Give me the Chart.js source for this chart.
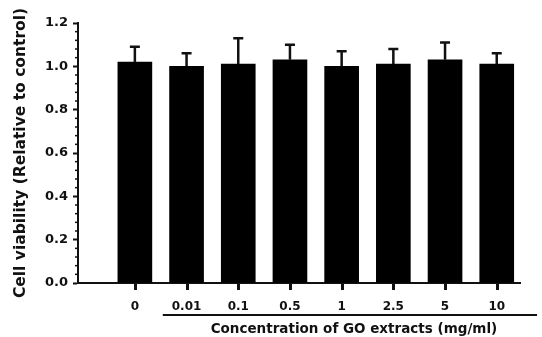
<!DOCTYPE html>
<html>
<head>
<meta charset="utf-8">
<script src="https://cdn.jsdelivr.net/npm/chart.js@4"></script>
<style>
  html, body { margin: 0; padding: 0; background: #fff; }
  #wrap { width: 542px; height: 337px; }
</style>
</head>
<body>
<div id="wrap"><canvas id="myChart"></canvas></div>
<script>
const concentrations = ["0", "0.01", "0.1", "0.5", "1", "2.5", "5", "10"];
const viability = [1.02, 1.00, 1.01, 1.03, 1.00, 1.01, 1.03, 1.01];
const errUp = [0.07, 0.06, 0.12, 0.07, 0.07, 0.07, 0.08, 0.05];
const yTicks = [0, 0.2, 0.4, 0.6, 0.8, 1.0, 1.2];
const xTitle = "Concentration of GO extracts (mg/ml)";

const ink = "#111";
const font = "'DejaVu Sans', sans-serif";

// error bars: upper whisker with a cap
const errorBars = {
  id: "errorBars",
  afterDatasetsDraw(chart) {
    const { ctx, scales: { x, y } } = chart;
    ctx.save();
    ctx.strokeStyle = ink;
    ctx.lineWidth = 2.5;
    viability.forEach((v, i) => {
      const px = x.getPixelForValue(i);
      const top = y.getPixelForValue(v + errUp[i]);
      ctx.beginPath();
      ctx.moveTo(px, y.getPixelForValue(v));
      ctx.lineTo(px, top);
      ctx.moveTo(px - 5, top);
      ctx.lineTo(px + 5, top);
      ctx.stroke();
    });
    ctx.restore();
  },
};

// minor ticks on y, x tick marks, bracket under the treated groups and its title
const extras = {
  id: "extras",
  afterDraw(chart) {
    const { ctx, scales: { x, y } } = chart;
    ctx.save();
    ctx.strokeStyle = ink;
    ctx.lineWidth = 1.5;
    for (let k = 0; k <= 30; k++) {
      if (k % 5 === 0) continue;
      const py = y.getPixelForValue(k * 0.04);
      ctx.beginPath();
      ctx.moveTo(y.right - 3, py);
      ctx.lineTo(y.right, py);
      ctx.stroke();
    }
    ctx.fillStyle = ink;
    const bars = chart.getDatasetMeta(0).data;
    bars.forEach((bar) => {
      ctx.fillRect(Math.round(bar.x) - 1, Math.round(x.top) + 1, 3, 6);
    });
    ctx.lineWidth = 2;
    const x0 = x.getPixelForValue(0.54);
    const x1 = x.getPixelForValue(7.78);
    const ly = 315;
    ctx.beginPath();
    ctx.moveTo(x0, ly);
    ctx.lineTo(x1, ly);
    ctx.stroke();
    ctx.font = "bold 13.5px " + font;
    ctx.textAlign = "center";
    ctx.textBaseline = "middle";
    ctx.fillText(xTitle, (x0 + x1) / 2 + 4, 329);
    ctx.restore();
  },
};

new Chart(document.getElementById("myChart").getContext("2d"), {
  type: "bar",
  data: {
    datasets: [
      {
        data: concentrations.map((c, i) => ({ x: i, y: viability[i] })),
        backgroundColor: "#000",
        barThickness: 34,
      },
    ],
  },
  options: {
    responsive: true,
    maintainAspectRatio: false,
    animation: false,
    layout: { padding: { top: 23, right: 22, left: 8, bottom: 0 } },
    plugins: { legend: { display: false }, tooltip: { enabled: false } },
    scales: {
      x: {
        type: "linear",
        min: -1.1,
        max: 7.45,
        offset: false,
        afterBuildTicks: (scale) => {
          scale.ticks = concentrations.map((c, i) => ({ value: i }));
        },
        afterFit: (scale) => { scale.height = 54; },
        border: { color: ink, width: 2 },
        grid: { display: false },
        ticks: {
          autoSkip: false,
          maxRotation: 0,
          padding: 9,
          color: ink,
          font: { family: font, size: 12, weight: "bold" },
          callback: (v) => concentrations[v],
        },
      },
      y: {
        min: 0,
        max: 1.2,
        afterBuildTicks: (scale) => {
          scale.ticks = yTicks.map((v) => ({ value: v }));
        },
        afterFit: (scale) => { scale.width = 70; },
        border: { color: ink, width: 2 },
        grid: { drawOnChartArea: false, drawTicks: true, tickLength: 5, tickColor: ink, tickWidth: 2 },
        ticks: {
          padding: 5,
          color: ink,
          font: { family: font, size: 13, weight: "bold" },
          callback: (v) => v.toFixed(1),
        },
        title: {
          display: true,
          text: "Cell viability (Relative to control)",
          color: ink,
          font: { family: font, size: 15.5, weight: "bold" },
          padding: { top: 4, bottom: 2 },
        },
      },
    },
  },
  plugins: [errorBars, extras],
});
</script>
</body>
</html>
